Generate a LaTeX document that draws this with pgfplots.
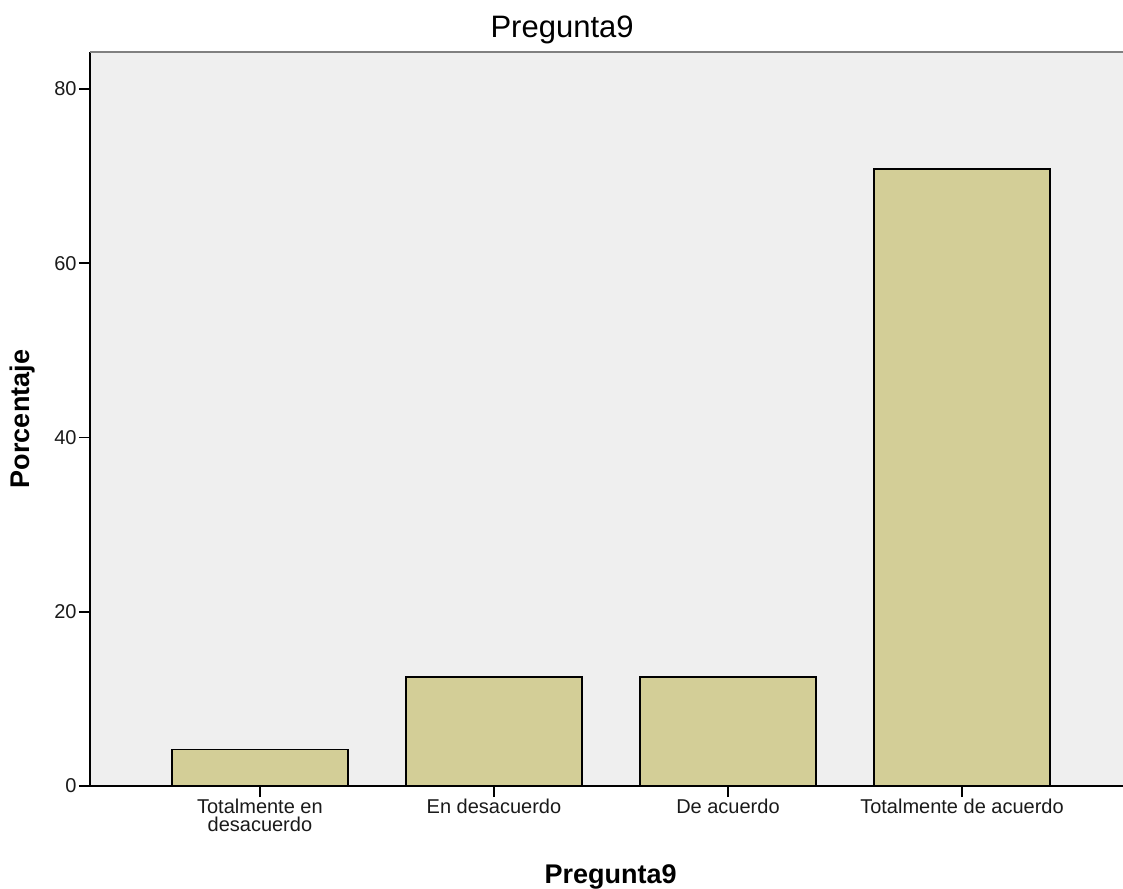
\documentclass[border=0pt]{standalone}
\usepackage{fontspec}
\setmainfont{Liberation Sans}
\usepackage{pgfplots}
\pgfplotsset{compat=1.18}
\definecolor{bgc}{HTML}{EFEFEF}
\definecolor{barc}{HTML}{D3CE97}
\definecolor{txt}{HTML}{1A1A1A}
\begin{document}
\begin{tikzpicture}
\begin{axis}[
  name=ax,
  scale only axis,
  width=516.5pt, height=367pt,
  xmin=-0.726, xmax=3.688,
  ymin=0, ymax=84.25,
  axis x line*=bottom, axis y line*=left,
  axis line style={-, black, line width=0.8pt},
  axis background/.style={fill=bgc},
  xtick={0,1,2,3},
  xticklabels={{Totalmente en\\desacuerdo},{En desacuerdo},{De acuerdo},{Totalmente de acuerdo}},
  ytick={0,20,40,60,80},
  tick align=outside,
  major tick length=5.5pt,
  tick style={black, line width=0.8pt},
  /pgf/number format/assume math mode=true,
  xticklabel style={font=\fontsize{10}{9}\selectfont, align=center, text=txt, inner sep=1pt, anchor=north},
  yticklabel style={font=\fontsize{10}{12}\selectfont, text=txt, inner sep=1pt},
  ylabel={Porcentaje},
  xlabel={Pregunta9},
  ylabel style={at={(rel axis cs:-0.0658,0.5)}, anchor=center, font=\fontsize{13.5}{15}\selectfont\bfseries},
  xlabel style={at={(rel axis cs:0.504,-0.1322)}, anchor=base, yshift=0pt, font=\fontsize{13.5}{15}\selectfont\bfseries},
  every axis title shift=0pt,
  title={Pregunta9},
  title style={at={(rel axis cs:0.457,1.0204)}, anchor=base, yshift=0pt, font=\fontsize{15.5}{17}\selectfont},
  clip=false,
]
\addplot[ybar, bar width=88pt, fill=barc, draw=black, line width=0.75pt] coordinates {
  (0,4.17) (1,12.5) (2,12.5) (3,70.83)
};
\draw[color=gray, line width=1pt] (rel axis cs:0,1) -- (rel axis cs:1,1);
\end{axis}
\pgfresetboundingbox
\path[use as bounding box] ([shift={(-45pt,-51pt)}]ax.south west) rectangle ([shift={(0pt,26pt)}]ax.north east);
\end{tikzpicture}
\end{document}
